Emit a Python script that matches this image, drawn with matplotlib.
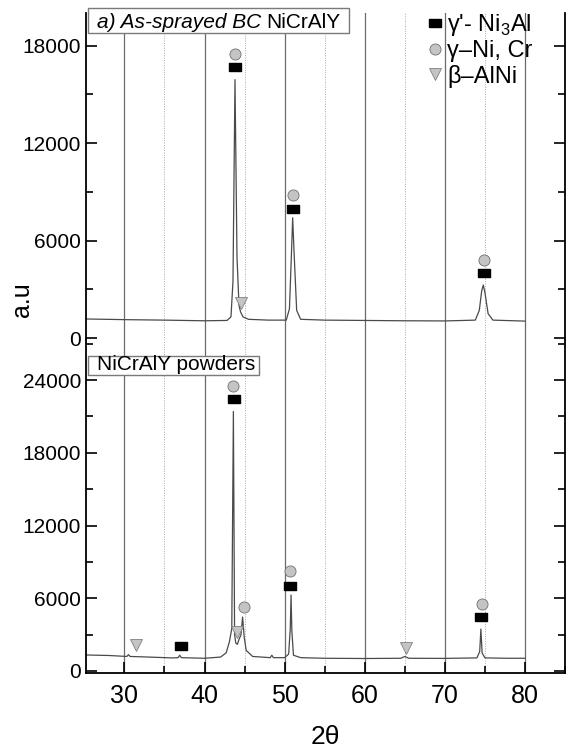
import matplotlib
matplotlib.use("Agg")
import matplotlib.pyplot as plt
from matplotlib.ticker import MultipleLocator
from matplotlib.patches import Rectangle

# ---------------- data ----------------
theta_top = [25.3, 30, 35, 40, 42.8, 43.3, 43.55, 43.8, 44.05, 44.3, 44.5, 44.8, 45.5, 48,
             50.2, 50.6, 50.85, 51.0, 51.2, 51.5, 52, 55, 60, 65, 70, 73.8, 74.3, 74.6,
             74.8, 75.0, 75.4, 76, 80]
int_top = [1170, 1130, 1100, 1060, 1080, 1300, 3500, 15900, 5000, 2000, 1600, 1300, 1150, 1100,
           1100, 1800, 5200, 7400, 5000, 1700, 1150, 1100, 1080, 1060, 1050, 1100, 1700, 2900,
           3260, 2800, 1500, 1100, 1040]

theta_bot = [25.3, 28, 30.3, 30.5, 30.7, 33, 36, 36.7, 36.9, 37.1, 40, 42, 42.7, 43.1, 43.4,
             43.6, 43.75, 43.9, 44.1, 44.3, 44.55, 44.75, 44.95, 45.2, 46, 48.2, 48.4, 48.6,
             50, 50.5, 50.7, 50.8, 50.9, 51.1, 52, 55, 60, 64.5, 65.0, 65.5, 70, 74.0, 74.35,
             74.5, 74.65, 75.0, 78, 80]
int_bot = [1320, 1280, 1200, 1350, 1200, 1150, 1080, 1100, 1300, 1100, 1050, 1150, 1500, 2400, 3500,
           21400, 3000, 2300, 2200, 2600, 3000, 4450, 2800, 1700, 1200, 1100, 1300, 1100,
           1100, 1400, 3500, 6270, 3300, 1300, 1100, 1050, 1030, 1050, 1200, 1050, 1040, 1080, 1600,
           3460, 1500, 1080, 1050, 1050]

# phase markers
sq_top_x = [43.8, 51.0, 74.9]
sq_top_y = [16680, 7940, 4000]
ci_top_x = [43.8, 51.0, 74.9]
ci_top_y = [17480, 8800, 4800]
tr_top_x = [44.5]
tr_top_y = [2150]

sq_bot_x = [37.0, 43.7, 50.7, 74.5]
sq_bot_y = [2060, 22430, 7010, 4480]
ci_bot_x = [43.6, 44.9, 50.7, 74.6]
ci_bot_y = [23500, 5300, 8270, 5520]
tr_bot_x = [31.5, 44.1, 65.1]
tr_bot_y = [2150, 3240, 1900]

legend_labels = ["\u03b3'- Ni$_3$Al", "\u03b3\u2013Ni, Cr", "\u03b2\u2013AlNi"]
x_major = [30, 40, 50, 60, 70, 80]
x_minor = [35, 45, 55, 65, 75]
top_title_it = "a) As-sprayed BC"
top_title_rm = "NiCrAlY"
bot_title = "NiCrAlY powders"

# ---------------- figure ----------------
plt.rcParams['font.family'] = ['Liberation Sans', 'DejaVu Sans']
plt.rcParams['mathtext.fontset'] = 'custom'
plt.rcParams['mathtext.rm'] = 'Liberation Sans'
W, H = 575, 748
fig = plt.figure(figsize=(W / 100, H / 100), dpi=100)

L, R = 86 / W, 565 / W
ax1 = fig.add_axes([L, 1 - 340 / H, R - L, (340 - 13) / H])
ax2 = fig.add_axes([L, 1 - 673 / H, R - L, (673 - 340) / H])

rect_marker = [(-1, -0.68), (1, -0.68), (1, 0.68), (-1, 0.68), (-1, -0.68)]
line_col = '#4a4a4a'
grey = '#c4c4c4'

for ax in (ax1, ax2):
    ax.set_xlim(25.2, 85)
    for xv in x_major:
        ax.axvline(xv, color='#6a6a6a', lw=0.9, zorder=0)
    for xv in x_minor:
        ax.axvline(xv, color='#a8a8a8', lw=0.7, ls=(0, (1, 1.5)), zorder=0)
    ax.spines['top'].set_visible(False)
    for s in ('left', 'right', 'bottom'):
        ax.spines[s].set_linewidth(1.3)
    ax.tick_params(axis='both', which='both', direction='in', right=True,
                   labelsize=15, width=1.2)
    ax.tick_params(axis='both', which='major', length=8)
    ax.tick_params(axis='both', which='minor', length=5)
    ax.set_xticks(x_major)
    ax.xaxis.set_minor_locator(MultipleLocator(5))

ax1.spines['bottom'].set_visible(False)
ax1.tick_params(axis='x', which='both', bottom=False, labelbottom=False)

ax1.plot(theta_top, int_top, color=line_col, lw=0.9, zorder=2)
ax2.plot(theta_bot, int_bot, color=line_col, lw=0.9, zorder=2)

sq_kw = dict(ls='none', marker=rect_marker, ms=8, mfc='black', mec='black', zorder=3)
ci_kw = dict(ls='none', marker='o', ms=8, mfc=grey, mec='#707070', mew=0.6, zorder=3)
tr_kw = dict(ls='none', marker='v', ms=8, mfc=grey, mec='#808080', mew=0.6, zorder=3)

h_sq = ax1.plot(sq_top_x, sq_top_y, **sq_kw)[0]
h_ci = ax1.plot(ci_top_x, ci_top_y, **ci_kw)[0]
h_tr = ax1.plot(tr_top_x, tr_top_y, **tr_kw)[0]
ax2.plot(sq_bot_x, sq_bot_y, **sq_kw)
ax2.plot(ci_bot_x, ci_bot_y, **ci_kw)
ax2.plot(tr_bot_x, tr_bot_y, **tr_kw)

ax1.set_ylim(-123, 20000)
ax1.set_yticks([0, 6000, 12000, 18000])
ax1.yaxis.set_minor_locator(MultipleLocator(3000))
ax2.set_ylim(-165, 27300)
ax2.set_yticks([0, 6000, 12000, 18000, 24000])
ax2.yaxis.set_minor_locator(MultipleLocator(3000))
ax2.tick_params(axis='x', labelsize=18, pad=8)

leg = ax1.legend([h_sq, h_ci, h_tr], legend_labels, loc='upper left',
                 bbox_to_anchor=(428 / W, 1 - 12 / H), bbox_transform=fig.transFigure,
                 frameon=False, fontsize=17, handlelength=0.6, handletextpad=0.2,
                 labelspacing=0.1, borderaxespad=0, borderpad=0)

# title boxes
fig.patches.append(Rectangle((88 / W, 1 - 33 / H), (349 - 88) / W, 25 / H,
                             transform=fig.transFigure, facecolor='white',
                             edgecolor='#7a7a7a', lw=1.0, zorder=5))
fig.patches.append(Rectangle((88 / W, 1 - 375 / H), (259 - 88) / W, 19 / H,
                             transform=fig.transFigure, facecolor='white',
                             edgecolor='#7a7a7a', lw=1.0, zorder=5))
t1 = fig.text(97 / W, 1 - 28 / H, top_title_it, style='italic', fontsize=15,
              va='baseline', ha='left', zorder=10)
fig.canvas.draw()
bb = t1.get_window_extent()
fig.text((bb.x1 + 5) / W, 1 - 28 / H, top_title_rm, fontsize=15,
         va='baseline', ha='left', zorder=10)
fig.text(97 / W, 1 - 370 / H, bot_title, fontsize=15, va='baseline', ha='left', zorder=10)

fig.text(22 / W, 1 - 300 / H, "a.u", rotation=90, fontsize=18, ha='center', va='center')
fig.text(325 / W, 1 - 737 / H, "2\u03b8", fontsize=19, ha='center', va='center')

fig.savefig("out.png", dpi=100)
